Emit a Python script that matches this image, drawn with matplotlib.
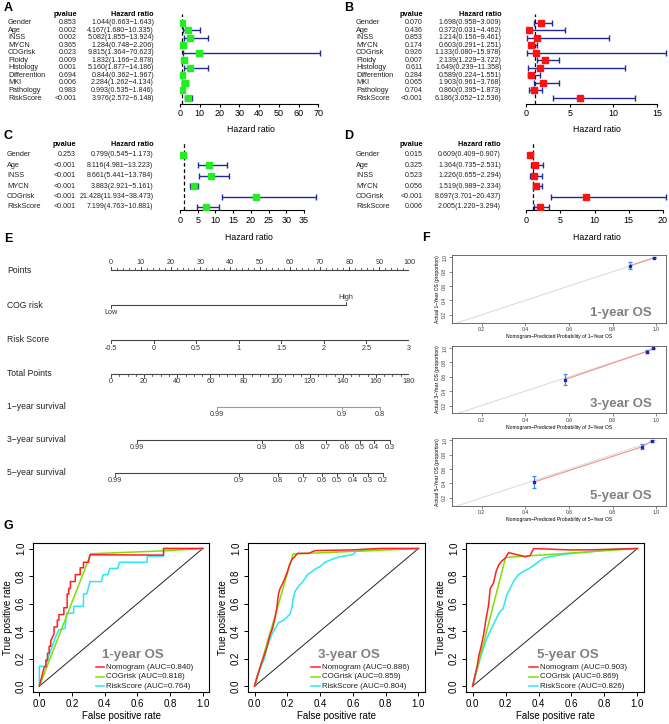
import numpy as np
import matplotlib
matplotlib.use("Agg")
import matplotlib.pyplot as plt
import matplotlib.transforms as mtransforms

plt.rcParams['font.family'] = ['Liberation Sans', 'DejaVu Sans']

# ---------------- data ----------------
# A / B : univariate / multivariate cox, training cohort
vars_ab = ['Gender', 'Age', 'INSS', 'MYCN', 'COGrisk', 'Ploidy', 'Histology',
           'Differention', 'MKI', 'Pathology', 'RiskScore']
p_a = ['0.853', '0.002', '0.002', '0.365', '0.023', '0.009', '0.001', '0.694', '0.006', '0.983', '<0.001']
hr_a = [1.044, 4.167, 5.082, 1.284, 9.815, 1.832, 5.160, 0.844, 2.284, 0.993, 3.976]
lo_a = [0.663, 1.680, 1.855, 0.748, 1.364, 1.166, 1.877, 0.362, 1.262, 0.535, 2.572]
hi_a = [1.643, 10.335, 13.924, 2.206, 70.623, 2.878, 14.186, 1.967, 4.134, 1.846, 6.148]

p_b = ['0.070', '0.436', '0.853', '0.174', '0.926', '0.007', '0.611', '0.284', '0.065', '0.704', '<0.001']
hr_b = [1.698, 0.372, 1.214, 0.603, 1.133, 2.139, 1.649, 0.589, 1.903, 0.860, 6.186]
lo_b = [0.958, 0.031, 0.156, 0.291, 0.080, 1.229, 0.239, 0.224, 0.961, 0.395, 3.052]
hi_b = [3.009, 4.462, 9.461, 1.251, 15.978, 3.722, 11.358, 1.551, 3.768, 1.873, 12.536]

# C / D
vars_cd = ['Gender', 'Age', 'INSS', 'MYCN', 'COGrisk', 'RiskScore']
p_c = ['0.253', '<0.001', '<0.001', '<0.001', '<0.001', '<0.001']
hr_c = [0.799, 8.116, 8.661, 3.883, 21.428, 7.199]
lo_c = [0.545, 4.981, 5.441, 2.921, 11.934, 4.763]
hi_c = [1.173, 13.223, 13.784, 5.161, 38.473, 10.881]

p_d = ['0.015', '0.325', '0.523', '0.056', '<0.001', '0.006']
hr_d = [0.609, 1.364, 1.226, 1.519, 8.697, 2.005]
lo_d = [0.409, 0.735, 0.655, 0.989, 3.701, 1.220]
hi_d = [0.907, 2.531, 2.294, 2.334, 20.437, 3.294]

# E : nomogram
points_ticks = np.arange(0, 101, 10)
cog_labels = ['Low', 'High']
cog_points = [0, 78.7]
riskscore_ticks = [-0.5, 0, 0.5, 1, 1.5, 2, 2.5, 3]
total_ticks = np.arange(0, 181, 20)
surv1_labels = ['0.99', '0.9', '0.8']
surv1_total = [64.0, 139.3, 162.5]
surv3_labels = ['0.99', '0.9', '0.8', '0.7', '0.6', '0.5', '0.4', '0.3']
surv3_total = [15.7, 91.0, 114.2, 129.9, 141.3, 150.4, 158.9, 168.5]
surv5_labels = ['0.99', '0.9', '0.8', '0.7', '0.6', '0.5', '0.4', '0.3', '0.2']
surv5_total = [2.4, 77.3, 100.9, 116.0, 127.4, 136.5, 146.2, 155.2, 164.3]

# F : calibration
cal_years = ['1', '3', '5']
cal1_pred = [0.88, 0.99]
cal1_obs = [0.885, 0.995]
cal1_lo = [0.84, 0.99]
cal1_hi = [0.93, 1.0]
cal3_pred = [0.58, 0.955, 0.985]
cal3_obs = [0.56, 0.95, 0.995]
cal3_lo = [0.48, 0.925, 0.99]
cal3_hi = [0.64, 0.975, 1.0]
cal5_pred = [0.44, 0.935, 0.98]
cal5_obs = [0.42, 0.91, 0.99]
cal5_lo = [0.34, 0.88, 0.98]
cal5_hi = [0.51, 0.95, 1.0]

# G : ROC curves
roc1_nom_fpr = [0, 0.03, 0.04, 0.04, 0.05, 0.05, 0.06, 0.06, 0.07, 0.07, 0.09, 0.09, 0.11, 0.11, 0.12, 0.12,
                0.15, 0.15, 0.17, 0.17, 0.18, 0.18, 0.19, 0.19, 0.22, 0.22, 0.25, 0.25, 0.27, 0.27, 0.30,
                0.31, 0.76, 0.76, 1.0]
roc1_nom_tpr = [0, 0.14, 0.14, 0.19, 0.19, 0.24, 0.24, 0.29, 0.29, 0.33, 0.38, 0.43, 0.43, 0.48, 0.48, 0.52,
                0.52, 0.57, 0.57, 0.67, 0.67, 0.71, 0.71, 0.76, 0.76, 0.81, 0.81, 0.86, 0.86, 0.90, 0.90,
                0.955, 0.952, 1.0, 1.0]
roc1_cog_fpr = [0, 0.315, 0.76, 1.0]
roc1_cog_tpr = [0, 0.962, 0.983, 1.0]
roc1_rs_fpr = [0, 0, 0.04, 0.055, 0.07, 0.085, 0.1, 0.12, 0.157, 0.167, 0.21, 0.21, 0.27, 0.27, 0.29, 0.31,
               0.38, 0.39, 0.42, 0.43, 0.48, 0.49, 0.66, 0.66, 0.76, 0.76, 1.0]
roc1_rs_tpr = [0, 0.145, 0.145, 0.21, 0.26, 0.31, 0.36, 0.41, 0.42, 0.53, 0.53, 0.58, 0.58, 0.67, 0.67, 0.76,
               0.76, 0.81, 0.81, 0.855, 0.855, 0.90, 0.90, 0.945, 0.945, 1.0, 1.0]

roc3_nom_fpr = [0, 0.014, 0.024, 0.04, 0.055, 0.075, 0.095, 0.11, 0.126, 0.136, 0.146, 0.156, 0.177, 0.197,
                0.213, 0.228, 0.248, 0.262, 0.33, 0.37, 0.60, 0.75, 1.0]
roc3_nom_tpr = [0, 0.06, 0.10, 0.16, 0.21, 0.28, 0.375, 0.42, 0.50, 0.57, 0.67, 0.71, 0.76, 0.82, 0.88, 0.92,
                0.945, 0.965, 0.965, 0.985, 0.99, 1.0, 1.0]
roc3_cog_fpr = [0, 0.235, 1.0]
roc3_cog_tpr = [0, 0.96, 1.0]
roc3_rs_fpr = [0, 0.014, 0.03, 0.045, 0.06, 0.075, 0.09, 0.105, 0.126, 0.146, 0.177, 0.197, 0.217, 0.228,
               0.234, 0.248, 0.268, 0.295, 0.323, 0.37, 0.40, 0.43, 0.47, 0.52, 0.60, 0.62, 0.73, 0.77, 1.0]
roc3_rs_tpr = [0, 0.07, 0.12, 0.16, 0.20, 0.28, 0.33, 0.375, 0.42, 0.46, 0.48, 0.50, 0.525, 0.57, 0.63, 0.69,
               0.726, 0.76, 0.81, 0.85, 0.87, 0.90, 0.92, 0.94, 0.956, 0.98, 0.99, 1.0, 1.0]

roc5_nom_fpr = [0, 0.016, 0.03, 0.036, 0.05, 0.067, 0.083, 0.097, 0.107, 0.127, 0.143, 0.158, 0.178, 0.198,
                0.218, 0.27, 0.32, 0.35, 0.37, 0.58, 0.70, 1.0]
roc5_nom_tpr = [0, 0.085, 0.16, 0.21, 0.28, 0.375, 0.50, 0.59, 0.71, 0.75, 0.835, 0.88, 0.91, 0.93, 0.97,
                0.955, 0.94, 0.95, 1.0, 0.99, 0.99, 1.0]
roc5_cog_fpr = [0, 0.2, 1.0]
roc5_cog_tpr = [0, 0.935, 1.0]
roc5_rs_fpr = [0, 0.016, 0.03, 0.046, 0.067, 0.087, 0.107, 0.127, 0.147, 0.168, 0.184, 0.198, 0.208, 0.228,
               0.248, 0.279, 0.31, 0.35, 0.39, 0.43, 0.49, 0.57, 0.71, 0.81, 1.0]
roc5_rs_tpr = [0, 0.07, 0.13, 0.20, 0.28, 0.35, 0.40, 0.45, 0.50, 0.545, 0.56, 0.62, 0.665, 0.71, 0.76, 0.81,
               0.835, 0.86, 0.895, 0.93, 0.945, 0.96, 0.976, 0.99, 1.0]

roc_titles = ['1-year OS', '3-year OS', '5-year OS']
roc_auc_nom = ['0.840', '0.886', '0.903']
roc_auc_cog = ['0.818', '0.859', '0.869']
roc_auc_rs = ['0.764', '0.804', '0.826']

# ---------------- figure ----------------
W, H = 669, 724
fig = plt.figure(figsize=(W / 100, H / 100), dpi=100)


def px_axes(left, top, width, height):
    return fig.add_axes([left / W, 1 - (top + height) / H, width / W, height / H])


def fig_text(x, y, s, **kw):
    fig.text(x / W, 1 - y / H, s, **kw)


NAVY = '#1f2a96'


def forest(spec, names, pvals, hr, lo, hi, color):
    hr, lo, hi = np.array(hr), np.array(lo), np.array(hi)
    ticks = spec['ticks']
    ppu = (spec['x1'] - spec['x0']) / ticks[-1]
    r0, st, top = spec['row0'], spec['step'], spec['dash_top']
    ax = px_axes(spec['x0'], top, ppu * spec['xlim'], spec['axis_y'] - top)
    ax.set_xlim(0, spec['xlim'])
    ax.set_ylim((spec['axis_y'] - r0) / st, (top - r0) / st)
    rows = np.arange(len(names))
    ax.axvline(1, color='black', ls=(0, (3, 2)), lw=0.9, zorder=1)
    ax.errorbar(hr, rows, xerr=[hr - lo, hi - hr], fmt='none', ecolor=NAVY,
                elinewidth=1.0, capsize=2.3, capthick=1.0, zorder=2)
    ax.plot(hr, rows, 's', color=color, ms=5, mec=color, zorder=3)
    for s in ['top', 'left', 'right']:
        ax.spines[s].set_visible(False)
    ax.spines['bottom'].set_bounds(0, ticks[-1])
    ax.spines['bottom'].set_linewidth(0.8)
    ax.set_xticks(ticks)
    ax.set_yticks([])
    ax.tick_params(axis='x', labelsize=6.5, length=2.5, width=0.8, pad=1.5)
    ax.set_xlabel('Hazard ratio', fontsize=6.3, labelpad=spec['pad'])
    ax.patch.set_visible(False)
    tr = mtransforms.blended_transform_factory(fig.transFigure, ax.transData)
    hy = (spec['header_y'] - r0) / st
    ax.text(spec['p_x'] / W, hy, 'pvalue', transform=tr, ha='right', va='center',
            fontsize=5.3, fontweight='bold')
    ax.text(spec['hr_x'] / W, hy, 'Hazard ratio', transform=tr, ha='right', va='center',
            fontsize=5.3, fontweight='bold')
    for i in rows:
        ax.text(spec['label_x'] / W, i, names[i], transform=tr, ha='left', va='center',
                fontsize=5.3, color='#222222')
        ax.text(spec['p_x'] / W, i, pvals[i], transform=tr, ha='right', va='center',
                fontsize=5.1, color='#222222')
        ax.text(spec['hr_x'] / W, i, f'{hr[i]:.3f}({lo[i]:.3f}\u2212{hi[i]:.3f})', transform=tr,
                ha='right', va='center', fontsize=5.1, color='#222222')
    return ax


spec_a = dict(x0=180, x1=318.3, ticks=list(range(0, 71, 10)), xlim=72, row0=22.7, step=7.53,
              axis_y=103.5, dash_top=14, header_y=14, label_x=8, p_x=77, hr_x=154, pad=5)
spec_b = dict(x0=526, x1=657, ticks=[0, 5, 10, 15], xlim=16.2, row0=22.7, step=7.53,
              axis_y=103.5, dash_top=14, header_y=14, label_x=356, p_x=423, hr_x=501.5, pad=5)
spec_c = dict(x0=180, x1=304, ticks=list(range(0, 36, 5)), xlim=39, row0=155, step=10.4,
              axis_y=210, dash_top=142, header_y=144.3, label_x=7, p_x=76, hr_x=153.3, pad=6)
spec_d = dict(x0=526, x1=663, ticks=list(range(0, 21, 5)), xlim=20.6, row0=155, step=10.4,
              axis_y=210, dash_top=142, header_y=144.3, label_x=356, p_x=423, hr_x=501, pad=6)

forest(spec_a, vars_ab, p_a, hr_a, lo_a, hi_a, '#22ee22')
forest(spec_b, vars_ab, p_b, hr_b, lo_b, hi_b, '#ff1111')
forest(spec_c, vars_cd, p_c, hr_c, lo_c, hi_c, '#22ee22')
forest(spec_d, vars_cd, p_d, hr_d, lo_d, hi_d, '#ff1111')

for letter, (x, y) in zip('ABCDEFG', [(4, 8), (344, 8), (4, 136), (344, 136), (4, 239),
                                      (422, 238), (4, 526)]):
    fig_text(x, y, letter, fontsize=9, fontweight='bold', ha='left', va='center')

# ---------------- E: nomogram ----------------
nax = px_axes(111, 245, 298, 250)
nax.set_xlim(0, 100)
nax.set_ylim(495, 245)
nax.axis('off')
LBL_X = (7 - 111) / 2.98
DARK = '#444444'


def scale(y, pos, labels, up=False, color=DARK, minor=None, label_sides=None):
    nax.plot([pos[0], pos[-1]], [y, y], color=color, lw=0.8, solid_capstyle='butt')
    if minor is not None:
        for m in minor:
            d = -1.6 if up else 1.6
            nax.plot([m, m], [y, y + d], color=color, lw=0.6)
    for i, (p, s) in enumerate(zip(pos, labels)):
        side_up = up if label_sides is None else label_sides[i]
        d = -3 if side_up else 3
        nax.plot([p, p], [y, y + d], color=color, lw=0.7)
        nax.text(p, y + (-4.2 if side_up else 4.2), s, ha='center',
                 va='bottom' if side_up else 'top', fontsize=5.2, color='#333333')


def row_label(y, s):
    nax.text(LBL_X, y, s, ha='left', va='center', fontsize=6.2, color='#222222', clip_on=False)


row_label(271, 'Points')
scale(270, points_ticks, [str(v) for v in points_ticks], up=True,
      minor=[m for m in range(0, 101, 2) if m % 10])

row_label(306, 'COG risk')
scale(305, cog_points, cog_labels, label_sides=[False, True])

row_label(340, 'Risk Score')
rs_lo, rs_hi = riskscore_ticks[0], riskscore_ticks[-1]
rs_pos = [(v - rs_lo) / (rs_hi - rs_lo) * 100 for v in riskscore_ticks]
scale(340.5, rs_pos, [f'{v:g}' for v in riskscore_ticks])

row_label(374, 'Total Points')
tot_max = total_ticks[-1]
scale(374, total_ticks / tot_max * 100, [str(v) for v in total_ticks],
      minor=[m / tot_max * 100 for m in range(0, 181, 5) if m % 20])

row_label(407, '1\u2212year survival')
scale(407, np.array(surv1_total) / tot_max * 100, surv1_labels, color='#999999')
row_label(440, '3\u2212year survival')
scale(440, np.array(surv3_total) / tot_max * 100, surv3_labels)
row_label(473, '5\u2212year survival')
scale(473, np.array(surv5_total) / tot_max * 100, surv5_labels)

# ---------------- F: calibration ----------------
cal_sets = [(cal1_pred, cal1_obs, cal1_lo, cal1_hi),
            (cal3_pred, cal3_obs, cal3_lo, cal3_hi),
            (cal5_pred, cal5_obs, cal5_lo, cal5_hi)]
for top, yr, (pred, obs, lo, hi) in zip([255, 345.7, 438], cal_years, cal_sets):
    ax = px_axes(452, top, 214, 67.5)
    pred, obs, lo, hi = map(np.array, (pred, obs, lo, hi))
    ax.plot([0, 1], [0, 1], color='#dddddd', lw=0.8)
    ax.plot(pred, obs, color='#ee9484', lw=0.8)
    ax.errorbar(pred, obs, yerr=[obs - lo, hi - obs], fmt='none', ecolor='#3f8fe0',
                elinewidth=0.9, capsize=1.6, capthick=0.9)
    ax.plot(pred, obs, 's', ms=2, color='#2222bb')
    ax.set_xlim(0.065, 1.044)
    ax.set_ylim(0.093, 1.032)
    ax.set_xticks([0.2, 0.4, 0.6, 0.8, 1.0])
    ax.set_yticks([0.2, 0.4, 0.6, 0.8, 1.0])
    ax.tick_params(labelsize=3.6, length=2, width=0.4, pad=1.5, colors='#333333')
    for lab in ax.get_yticklabels():
        lab.set_rotation(90)
        lab.set_va('center')
    for s in ax.spines.values():
        s.set_linewidth(0.6)
        s.set_color('#555555')
    ax.set_xlabel(f'Nomogram\u2212Predicted Probability of {yr}\u2212Year OS', fontsize=3.6, labelpad=1.5)
    ax.set_ylabel(f'Actual {yr}\u2212Year OS (proportion)', fontsize=3.6, labelpad=1.5)
    ax.text(0.935, 0.14, f'{yr}-year OS', transform=ax.transAxes, ha='right', va='center',
            fontsize=9.5, fontweight='bold', color='#808080')

# ---------------- G: ROC ----------------
roc_sets = [
    ((roc1_nom_fpr, roc1_nom_tpr), (roc1_cog_fpr, roc1_cog_tpr), (roc1_rs_fpr, roc1_rs_tpr)),
    ((roc3_nom_fpr, roc3_nom_tpr), (roc3_cog_fpr, roc3_cog_tpr), (roc3_rs_fpr, roc3_rs_tpr)),
    ((roc5_nom_fpr, roc5_nom_tpr), (roc5_cog_fpr, roc5_cog_tpr), (roc5_rs_fpr, roc5_rs_tpr)),
]
roc_colors = ['#ff2020', '#7ee000', '#2ae8f0']
for k, (left, width) in enumerate([(32.8, 176.5), (248, 177), (466, 178)]):
    ax = px_axes(left, 543, width, 148.7)
    ax.plot([0, 1], [0, 1], color='#222222', lw=0.7)
    names = [f'Nomogram (AUC={roc_auc_nom[k]})', f'COGrisk (AUC={roc_auc_cog[k]})',
             f'RiskScore (AUC={roc_auc_rs[k]})']
    for (fpr, tpr), col in zip(roc_sets[k][::-1], roc_colors[::-1]):
        ax.plot(fpr, tpr, color=col, lw=1.1)
    ax.set_xlim(-0.04, 1.04)
    ax.set_ylim(-0.04, 1.04)
    ticks = [0, 0.2, 0.4, 0.6, 0.8, 1.0]
    ax.set_xticks(ticks)
    ax.set_yticks(ticks)
    ax.set_xticklabels([f'{t:.1f}' for t in ticks])
    ax.set_yticklabels([f'{t:.1f}' for t in ticks], rotation=90, va='center')
    ax.tick_params(labelsize=7, length=3, width=0.7, pad=2)
    for s in ax.spines.values():
        s.set_linewidth(0.8)
    ax.set_xlabel('False positive rate', fontsize=7, labelpad=2)
    ax.set_ylabel('True positive rate', fontsize=7, labelpad=2)
    ax.text(0.575, 0.225, roc_titles[k], ha='center', va='center', fontsize=9.5,
            fontweight='bold', color='#808080')
    for j, (name, col) in enumerate(zip(names, roc_colors)):
        yy = 0.136 - j * 0.068
        ax.plot([0.345, 0.397], [yy, yy], color=col, lw=1.1)
        ax.text(0.41, yy, name, ha='left', va='center', fontsize=5.7, color='#222222')

fig.savefig('out.png', dpi=100)
